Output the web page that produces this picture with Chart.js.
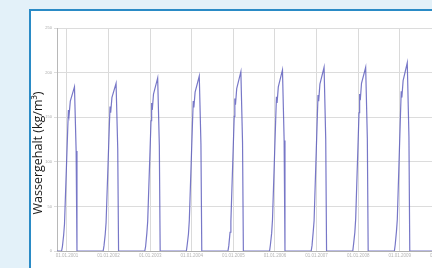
<!DOCTYPE html>
<html>
<head>
<meta charset="utf-8">
<script src="https://cdn.jsdelivr.net/npm/chart.js@4"></script>
<style>
  html, body { margin: 0; padding: 0; width: 432px; height: 268px; overflow: hidden; background: #e3f1f9; }
  #panel { position: absolute; left: 29px; top: 9px; width: 480px; height: 300px; background: #fff;
           border-left: 2px solid #2a8bc6; border-top: 2px solid #2a8bc6; }
  #myChart { position: absolute; left: 0; top: 0; }
</style>
</head>
<body>
<div id="panel"></div>
<canvas id="myChart" width="480" height="300"></canvas>
<script>
// Zeitachse in Jahren, ein Zyklus pro Jahr
const zeit = [
  2000.76,
  2000.87, 2000.89, 2000.92, 2000.94, 2001.02, 2001.035, 2001.05, 2001.08, 2001.18, 2001.22, 2001.24,
  2001.87, 2001.89, 2001.92, 2001.94, 2002.02, 2002.035, 2002.05, 2002.08, 2002.18, 2002.22, 2002.24,
  2002.87, 2002.89, 2002.92, 2002.94, 2003.02, 2003.035, 2003.05, 2003.08, 2003.18, 2003.22, 2003.24,
  2003.87, 2003.89, 2003.92, 2003.94, 2004.02, 2004.035, 2004.05, 2004.08, 2004.18, 2004.22, 2004.24,
  2004.87, 2004.89, 2004.92, 2004.94, 2005.02, 2005.035, 2005.05, 2005.08, 2005.18, 2005.22, 2005.24,
  2005.87, 2005.89, 2005.92, 2005.94, 2006.02, 2006.035, 2006.05, 2006.08, 2006.18, 2006.22, 2006.24,
  2006.87, 2006.89, 2006.92, 2006.94, 2007.02, 2007.035, 2007.05, 2007.08, 2007.18, 2007.22, 2007.24,
  2007.87, 2007.89, 2007.92, 2007.94, 2008.02, 2008.035, 2008.05, 2008.08, 2008.18, 2008.22, 2008.24,
  2008.87, 2008.89, 2008.92, 2008.94, 2009.02, 2009.035, 2009.05, 2009.08, 2009.18, 2009.22, 2009.24,
  2009.87, 2009.89, 2009.92, 2009.94, 2010.02, 2010.035, 2010.05, 2010.08, 2010.18, 2010.22, 2010.24,
  2010.76
];

// Wassergehalt in kg/m³
const wassergehalt = [
  0,
  0, 5, 18, 30, 140, 158, 152, 168, 184, 112, 0,
  0, 6, 19, 32, 143, 162, 155, 172, 188, 115, 0,
  0, 5, 20, 33, 146, 166, 158, 176, 194, 118, 0,
  0, 7, 19, 34, 148, 168, 161, 178, 196, 120, 0,
  0, 6, 21, 33, 151, 171, 164, 182, 201, 122, 0,
  0, 7, 20, 35, 152, 173, 166, 184, 203, 124, 0,
  0, 6, 22, 34, 154, 175, 168, 187, 206, 125, 0,
  0, 8, 21, 36, 155, 176, 169, 188, 206, 126, 0,
  0, 7, 22, 35, 158, 179, 172, 191, 211, 128, 0,
  0, 8, 23, 37, 159, 180, 173, 192, 212, 129, 0,
  0
];

const xTicks = [2001, 2002, 2003, 2004, 2005, 2006, 2007, 2008, 2009, 2010];
const xLabels = ['01.01.2001', '01.01.2002', '01.01.2003', '01.01.2004', '01.01.2005',
                 '01.01.2006', '01.01.2007', '01.01.2008', '01.01.2009', '01.01.2010'];
const yTicks = [0, 50, 100, 150, 200, 250];

const titelPlugin = {
  id: 'yTitel',
  afterDraw(chart) {
    const c = chart.ctx;
    c.save();
    c.translate(38, 153);
    c.rotate(-Math.PI / 2);
    c.font = '12.5px "Open Sans"';
    c.fillStyle = '#1a1a1a';
    c.textAlign = 'center';
    c.textBaseline = 'middle';
    c.fillText('Wassergehalt (kg/m³)', 0, 0);
    c.restore();
  },
};

const ctx = document.getElementById('myChart');

new Chart(ctx, {
  type: 'line',
  data: {
    datasets: [
      {
        label: 'Wassergehalt',
        data: zeit.map((t, i) => ({ x: t, y: wassergehalt[i] })),
        borderColor: 'rgba(85, 85, 185, 0.8)',
        borderWidth: 1.2,
        pointRadius: 0,
        tension: 0,
        fill: false,
      },
    ],
  },
  options: {
    responsive: false,
    animation: false,
    layout: { padding: { left: 0, top: 28, right: 7, bottom: 0 } },
    plugins: { legend: { display: false }, tooltip: { enabled: false } },
    scales: {
      x: {
        type: 'linear',
        min: 2000.76,
        max: 2010.76,
        afterBuildTicks: (s) => { s.ticks = xTicks.map((v) => ({ value: v })); },
        afterFit: (s) => { s.height = 49; },
        grid: { color: '#dadada', drawTicks: false },
        border: { color: '#b0b0b0' },
        ticks: {
          padding: 2,
          maxRotation: 0,
          autoSkip: false,
          color: '#b5b5b5',
          font: { size: 4.5 },
          callback: (v) => xLabels[xTicks.indexOf(v)] || '',
        },
      },
      y: {
        min: 0,
        max: 250,
        afterBuildTicks: (s) => { s.ticks = yTicks.map((v) => ({ value: v })); },
        afterFit: (s) => { s.width = 57; },
        grid: { color: '#dcdcdc', tickLength: 3 },
        border: { color: '#b8b8b8' },
        ticks: { color: '#a8a8a8', font: { size: 4 }, padding: 2 },
      },
    },
  },
  plugins: [titelPlugin],
});
</script>
</body>
</html>
